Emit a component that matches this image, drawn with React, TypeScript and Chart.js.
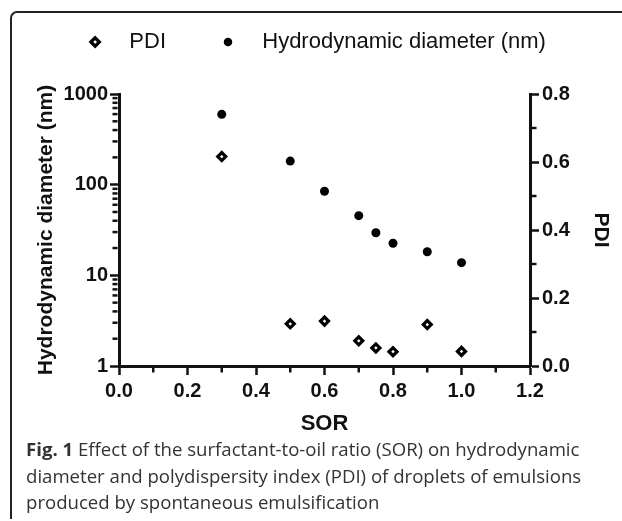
import React, { useEffect, useRef } from 'react';
import { Chart, registerables } from 'chart.js';

Chart.register(...registerables);

// ---- data ----
const SOR = [0.3, 0.5, 0.6, 0.7, 0.75, 0.8, 0.9, 1.0];
const DIAMETER_NM = [597, 182, 84.5, 45.5, 29.5, 22.6, 18.2, 13.8];
const PDI = [0.616, 0.124, 0.132, 0.074, 0.053, 0.042, 0.122, 0.043];

// ---- axis ticks ----
const LOG_TICKS = [1, 10, 100, 1000];
const LOG_MINOR = [2, 3, 4, 5, 6, 7, 8, 9, 20, 30, 40, 50, 60, 70, 80, 90, 200, 300, 400, 500, 600, 700, 800, 900];
const X_MINOR = [0.1, 0.3, 0.5, 0.7, 0.9, 1.1];
const PDI_MINOR = [0.1, 0.3, 0.5, 0.7];

const INK = '#111111';
const FONT = "'Liberation Sans', Arial, sans-serif";

const minorTicksPlugin = {
  id: 'minorTicks',
  afterDraw(chart: any) {
    const { ctx, chartArea } = chart;
    const { left, right, bottom } = chartArea;
    ctx.save();
    ctx.strokeStyle = INK;
    ctx.lineWidth = 2.5;
    ctx.lineCap = 'butt';
    const len = 5;
    const half = 1.5;
    const y = chart.scales.y;
    LOG_MINOR.forEach((v) => {
      const p = y.getPixelForValue(v);
      ctx.beginPath();
      ctx.moveTo(left - half, p);
      ctx.lineTo(left - half - len, p);
      ctx.stroke();
    });
    const yR = chart.scales.yR;
    PDI_MINOR.forEach((v) => {
      const p = yR.getPixelForValue(v);
      ctx.beginPath();
      ctx.moveTo(right + half, p);
      ctx.lineTo(right + half + len, p);
      ctx.stroke();
    });
    const x = chart.scales.x;
    X_MINOR.forEach((v) => {
      const p = x.getPixelForValue(v);
      ctx.beginPath();
      ctx.moveTo(p, bottom + half);
      ctx.lineTo(p, bottom + half + len);
      ctx.stroke();
    });
    ctx.restore();
  },
};

const axisGrid = {
  display: true,
  drawOnChartArea: false,
  drawTicks: true,
  tickLength: 9,
  tickWidth: 2.5,
  tickColor: INK,
};
const axisBorder = { display: true, width: 3, color: INK };
const tickFont = { family: FONT, size: 20, weight: 'bold' as const };
const titleFont = { family: FONT, size: 21, weight: 'bold' as const };

export default function App() {
  const ref = useRef<HTMLCanvasElement | null>(null);

  useEffect(() => {
    if (!ref.current) return;
    const chart = new Chart(ref.current, {
      type: 'scatter',
      data: {
        datasets: [
          {
            label: 'PDI',
            data: SOR.map((s, i) => ({ x: s, y: PDI[i] })),
            yAxisID: 'yR',
            pointStyle: 'rectRot',
            pointRadius: 4,
            backgroundColor: '#ffffff',
            borderColor: '#000000',
            borderWidth: 3.2,
          },
          {
            label: 'Hydrodynamic diameter (nm)',
            data: SOR.map((s, i) => ({ x: s, y: DIAMETER_NM[i] })),
            yAxisID: 'y',
            pointStyle: 'circle',
            pointRadius: 4.5,
            backgroundColor: '#000000',
            borderColor: '#000000',
            borderWidth: 0,
          },
        ],
      },
      options: {
        responsive: false,
        animation: false,
        events: [],
        layout: { padding: { left: 8, right: 0, top: 0, bottom: 0 } },
        plugins: {
          tooltip: { enabled: false },
          legend: {
            display: true,
            position: 'top',
            labels: {
              usePointStyle: true,
              boxWidth: 22,
              boxHeight: 6,
              padding: 51,
              color: INK,
              font: { family: FONT, size: 22, weight: 'normal' },
              generateLabels: (c: any) =>
                Chart.defaults.plugins.legend.labels
                  .generateLabels(c)
                  .map((l: any) => ({ ...l, text: '  ' + l.text })),
            },
          },
        },
        scales: {
          x: {
            type: 'linear',
            position: 'bottom',
            min: 0,
            max: 1.2,
            grid: axisGrid,
            border: axisBorder,
            ticks: {
              stepSize: 0.2,
              padding: 4,
              color: INK,
              font: tickFont,
              maxRotation: 0,
              callback: (v: any) => Number(v).toFixed(1),
            },
            title: {
              display: true,
              text: 'SOR',
              color: INK,
              font: { family: FONT, size: 22, weight: 'bold' },
              padding: { top: 0, bottom: 7.8 },
            },
            afterFit: (s: any) => {
              s.height = 79;
            },
          },
          xTop: {
            type: 'linear',
            position: 'top',
            display: true,
            min: 0,
            max: 1.2,
            grid: { display: false, drawTicks: false },
            border: { display: false },
            ticks: { display: false },
            afterFit: (s: any) => {
              s.height = 31;
            },
          },
          y: {
            type: 'logarithmic',
            position: 'left',
            min: 1,
            max: 1000,
            grid: axisGrid,
            border: axisBorder,
            afterBuildTicks: (s: any) => {
              s.ticks = LOG_TICKS.map((v) => ({ value: v }));
            },
            ticks: {
              padding: 2,
              color: INK,
              font: tickFont,
              callback: (v: any) => String(v),
            },
            title: {
              display: true,
              text: 'Hydrodynamic diameter (nm)',
              color: INK,
              font: titleFont,
              padding: { top: 25.4, bottom: 0 },
            },
            afterFit: (s: any) => {
              s.width = 111;
            },
          },
          yR: {
            type: 'linear',
            position: 'right',
            min: 0,
            max: 0.8,
            grid: axisGrid,
            border: axisBorder,
            ticks: {
              stepSize: 0.2,
              padding: 3,
              color: INK,
              font: tickFont,
              callback: (v: any) => Number(v).toFixed(1),
            },
            title: {
              display: true,
              text: 'PDI',
              color: INK,
              font: titleFont,
              padding: { top: 8.4, bottom: 0 },
            },
            afterFit: (s: any) => {
              s.width = 92;
            },
          },
        },
      } as any,
      plugins: [minorTicksPlugin],
    });
    return () => chart.destroy();
  }, []);

  return (
    <div
      style={{
        position: 'fixed',
        left: 0,
        top: 0,
        width: 622,
        height: 521,
        overflow: 'hidden',
        background: '#ffffff',
      }}
    >
      <div
        style={{
          position: 'absolute',
          left: 10,
          top: 11,
          width: 700,
          height: 508,
          borderTop: '2px solid #222',
          borderLeft: '2px solid #222',
          borderTopLeftRadius: 7,
          boxSizing: 'border-box',
        }}
      />
      <canvas
        ref={ref}
        width={622}
        height={465}
        style={{ position: 'absolute', left: 0, top: -20, width: 622, height: 465 }}
      />
      <div
        style={{
          position: 'absolute',
          left: 26,
          top: 436,
          fontFamily: "'Open Sans', 'Noto Sans', sans-serif",
          fontSize: 18.6,
          lineHeight: '26.5px',
          color: '#333333',
          whiteSpace: 'nowrap',
        }}
      >
        <span style={{ fontWeight: 700 }}>Fig. 1</span> Effect of the surfactant-to-oil ratio (SOR) on hydrodynamic
        <br />
        diameter and polydispersity index (PDI) of droplets of emulsions
        <br />
        produced by spontaneous emulsification
      </div>
    </div>
  );
}
